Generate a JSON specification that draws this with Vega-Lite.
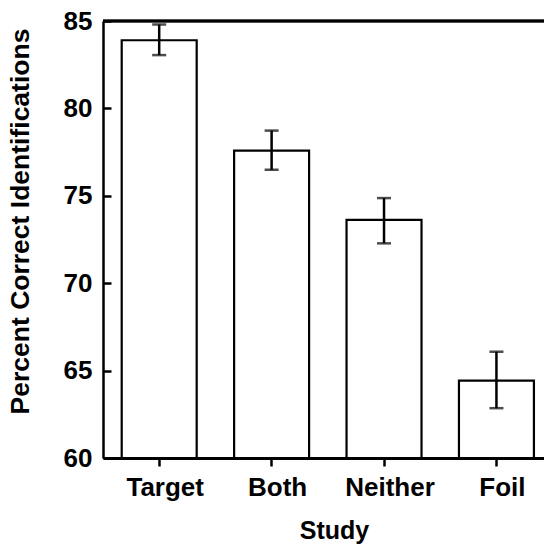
{
  "$schema": "https://vega.github.io/schema/vega-lite/v6.json",
  "width": 441,
  "height": 437,
  "autosize": {"type": "none"},
  "padding": {"left": 103, "top": 21, "right": 0, "bottom": 87},
  "background": "white",
  "config": {"view": {"stroke": null}, "font": "Liberation Sans"},
  "data": {
    "values": [
      {"study": "Target", "mean": 83.9, "lo": 83.05, "hi": 84.8},
      {"study": "Both", "mean": 77.58, "lo": 76.49, "hi": 78.73},
      {"study": "Neither", "mean": 73.62, "lo": 72.28, "hi": 74.87},
      {"study": "Foil", "mean": 64.43, "lo": 62.85, "hi": 66.08}
    ]
  },
  "layer": [
    {
      "mark": {"type": "bar", "fill": "white", "stroke": "black", "strokeWidth": 2.2},
      "encoding": {
        "x": {
          "field": "study",
          "type": "nominal",
          "sort": null,
          "scale": {"paddingInner": 0.333, "paddingOuter": 0.128, "align": 0.65},
          "axis": {
            "title": "Study",
            "labelAngle": 0,
            "labelFont": "Liberation Sans",
            "labelFontSize": 26,
            "labelFontWeight": "bold",
            "labelColor": "black",
            "labelOffset": 6,
            "labelPadding": 8,
            "tickSize": 8,
            "tickWidth": 2.5,
            "tickColor": "black",
            "domainColor": "black",
            "domainWidth": 3,
            "titleFont": "Liberation Sans",
            "titleFontSize": 25,
            "titleFontWeight": "bold",
            "titleColor": "black",
            "titleX": 231,
            "titleY": 80,
            "titleBaseline": "alphabetic"
          }
        },
        "y": {
          "field": "mean",
          "type": "quantitative",
          "title": "Percent Correct Identifications",
          "scale": {"domain": [60, 85], "zero": false, "nice": false},
          "axis": {
            "values": [60, 65, 70, 75, 80, 85],
            "grid": false,
            "tickSize": -8,
            "tickWidth": 2.5,
            "tickColor": "black",
            "domainColor": "black",
            "domainWidth": 2.5,
            "labelFont": "Liberation Sans",
            "labelFontSize": 26,
            "labelFontWeight": "bold",
            "labelColor": "black",
            "labelPadding": 19,
            "titleFont": "Liberation Sans",
            "titleFontSize": 26.5,
            "titleFontWeight": "bold",
            "titleColor": "black",
            "titleX": -83,
            "titleY": 200,
            "titleBaseline": "middle"
          }
        },
        "y2": {"datum": 60}
      }
    },
    {
      "mark": {"type": "rule", "strokeWidth": 2.5, "color": "black"},
      "encoding": {
        "x": {"field": "study", "type": "nominal", "sort": null},
        "y": {"field": "lo", "type": "quantitative", "title": "Percent Correct Identifications"},
        "y2": {"field": "hi"}
      }
    },
    {
      "mark": {"type": "tick", "size": 14, "thickness": 2.5, "color": "black", "orient": "horizontal"},
      "encoding": {
        "x": {"field": "study", "type": "nominal", "sort": null},
        "y": {"field": "lo", "type": "quantitative", "title": "Percent Correct Identifications"}
      }
    },
    {
      "mark": {"type": "tick", "size": 14, "thickness": 2.5, "color": "black", "orient": "horizontal"},
      "encoding": {
        "x": {"field": "study", "type": "nominal", "sort": null},
        "y": {"field": "hi", "type": "quantitative", "title": "Percent Correct Identifications"}
      }
    },
    {
      "mark": {"type": "rule", "strokeWidth": 2.5, "color": "black"},
      "encoding": {"y": {"datum": 85, "title": "Percent Correct Identifications"}}
    }
  ]
}
